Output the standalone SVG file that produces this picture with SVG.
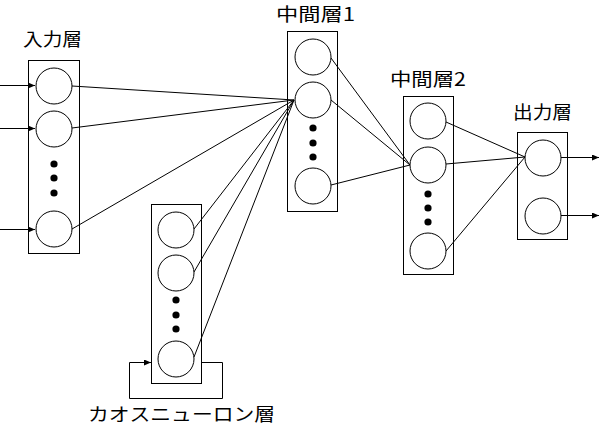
<svg xmlns="http://www.w3.org/2000/svg" width="600" height="426" viewBox="0 0 600 426">
<style>
.box{fill:none;stroke:#000;stroke-width:1}
.n{fill:#fff;stroke:#000;stroke-width:1}
.d{fill:#000}
.c{fill:none;stroke:#000;stroke-width:1}
.t{font-family:"Noto Sans CJK JP","Noto Sans CJK SC",sans-serif;font-size:18px;fill:#000}
</style>
<defs>
<marker id="ah" markerUnits="userSpaceOnUse" markerWidth="8" markerHeight="6" refX="7" refY="3" orient="auto">
<path d="M0,0 L7,3 L0,6 z" fill="#000"/>
</marker>
</defs>
<rect width="600" height="426" fill="#fff"/>
<g id="connectors">
<line class="c" x1="0" y1="85.5" x2="35" y2="85.5" marker-end="url(#ah)"/>
<line class="c" x1="0" y1="128.5" x2="35" y2="128.5" marker-end="url(#ah)"/>
<line class="c" x1="0" y1="229.5" x2="35" y2="229.5" marker-end="url(#ah)"/>
<line class="c" x1="72" y1="86" x2="294" y2="100"/>
<line class="c" x1="72" y1="128" x2="294" y2="100"/>
<line class="c" x1="72" y1="229" x2="294" y2="100"/>
<line class="c" x1="194" y1="229" x2="294" y2="100"/>
<line class="c" x1="194" y1="272" x2="294" y2="100"/>
<line class="c" x1="194" y1="357" x2="294" y2="100"/>
<line class="c" x1="331" y1="58" x2="410" y2="165"/>
<line class="c" x1="331" y1="100" x2="410" y2="165"/>
<line class="c" x1="331" y1="185" x2="410" y2="165"/>
<line class="c" x1="446" y1="122" x2="525" y2="157"/>
<line class="c" x1="446" y1="164" x2="525" y2="157"/>
<line class="c" x1="446" y1="251" x2="525" y2="157"/>
<line class="c" x1="561" y1="157.5" x2="599" y2="157.5" marker-end="url(#ah)"/>
<line class="c" x1="561" y1="215.5" x2="599" y2="215.5" marker-end="url(#ah)"/>
<path class="c" d="M202,362.5 H222.5 V398.5 H129.5 V362.5 H151" marker-end="url(#ah)"/>
</g>
<g id="input-layer">
<rect class="box" x="28.5" y="60.5" width="51" height="193"/>
<circle class="n" cx="54" cy="86" r="18"/>
<circle class="n" cx="54" cy="129" r="18"/>
<circle class="d" cx="54" cy="164" r="3.6"/>
<circle class="d" cx="54" cy="178" r="3.6"/>
<circle class="d" cx="54" cy="193" r="3.6"/>
<circle class="n" cx="54" cy="229" r="18"/>
<text class="t" x="23" y="46" textLength="59" lengthAdjust="spacingAndGlyphs">入力層</text>
</g>
<g id="middle-layer-1">
<rect class="box" x="287.5" y="31.5" width="50" height="180"/>
<circle class="n" cx="313" cy="57" r="18"/>
<circle class="n" cx="313" cy="100" r="18"/>
<circle class="d" cx="313" cy="128" r="3.6"/>
<circle class="d" cx="313" cy="143" r="3.6"/>
<circle class="d" cx="313" cy="157" r="3.6"/>
<circle class="n" cx="313" cy="186" r="18"/>
<text class="t" x="276" y="21" textLength="79" lengthAdjust="spacingAndGlyphs">中間層1</text>
</g>
<g id="middle-layer-2">
<rect class="box" x="403.5" y="96.5" width="50" height="178"/>
<circle class="n" cx="428" cy="121" r="18"/>
<circle class="n" cx="428" cy="165" r="18"/>
<circle class="d" cx="428" cy="194" r="3.6"/>
<circle class="d" cx="428" cy="208" r="3.6"/>
<circle class="d" cx="428" cy="222" r="3.6"/>
<circle class="n" cx="428" cy="251" r="18"/>
<text class="t" x="390" y="86" textLength="76" lengthAdjust="spacingAndGlyphs">中間層2</text>
</g>
<g id="output-layer">
<rect class="box" x="517.5" y="132.5" width="50" height="107"/>
<circle class="n" cx="543" cy="158" r="18"/>
<circle class="n" cx="543" cy="216" r="18"/>
<text class="t" x="513" y="119" textLength="59" lengthAdjust="spacingAndGlyphs">出力層</text>
</g>
<g id="chaos-layer">
<rect class="box" x="151.5" y="204.5" width="50" height="179"/>
<circle class="n" cx="176" cy="230" r="18"/>
<circle class="n" cx="176" cy="273" r="18"/>
<circle class="d" cx="176" cy="300" r="3.6"/>
<circle class="d" cx="176" cy="315" r="3.6"/>
<circle class="d" cx="176" cy="329" r="3.6"/>
<circle class="n" cx="176" cy="359" r="18"/>
<text class="t" x="88" y="421" textLength="187" lengthAdjust="spacingAndGlyphs">カオスニューロン層</text>
</g>
</svg>
